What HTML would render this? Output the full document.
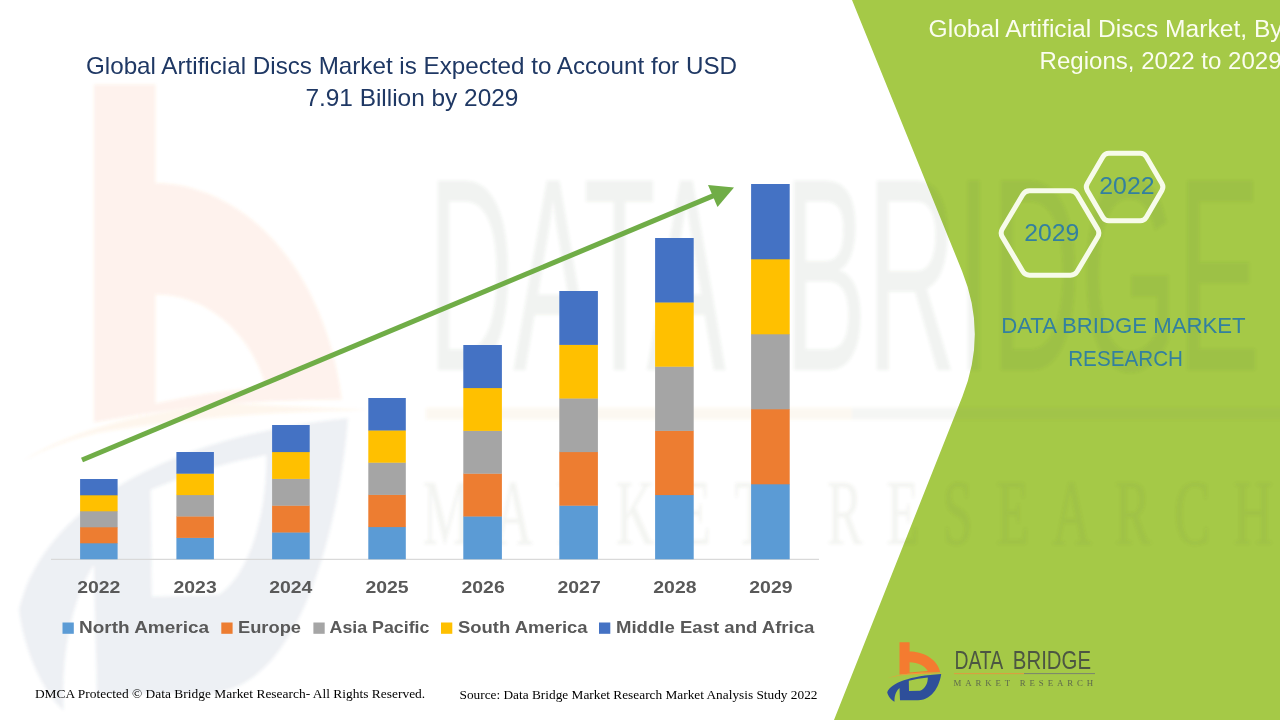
<!DOCTYPE html>
<html><head><meta charset="utf-8"><title>Global Artificial Discs Market</title>
<style>
html,body{margin:0;padding:0;background:#fff;}
body{width:1280px;height:720px;overflow:hidden;font-family:"Liberation Sans",sans-serif;}
svg{display:block;}
text{font-family:"Liberation Sans",sans-serif;}
.serif{font-family:"Liberation Serif",serif;}
</style></head><body>
<svg width="1280" height="720" viewBox="0 0 1280 720">
<rect width="1280" height="720" fill="#ffffff"/>
<!-- green panel -->
<path d="M852,0 L962,271 Q987.4,333.7 962.4,396.5 L834,720 L1280,720 L1280,0 Z" fill="#A5C947"/>
<g filter="url(#bl)"><use href="#lgi" opacity="0.09" style="--b:#455A84" transform="translate(-5384,-6658.7) scale(6.09,10.5)"/><use href="#lgt" opacity="0.075" style="--fs:26.2px" transform="translate(-5384,-6658.7) scale(6.09,10.5)"/></g>
<!-- axis -->
<line x1="51" y1="559.3" x2="819" y2="559.3" stroke="#D9D9D9" stroke-width="1.2"/>
<!-- bars -->
<rect x="80.1" y="543.00" width="37.5" height="16.30" fill="#5B9BD5"/>
<rect x="80.1" y="527.00" width="37.5" height="16.30" fill="#ED7D31"/>
<rect x="80.1" y="511.00" width="37.5" height="16.30" fill="#A5A5A5"/>
<rect x="80.1" y="495.00" width="37.5" height="16.30" fill="#FFC000"/>
<rect x="80.1" y="479.00" width="37.5" height="16.30" fill="#4472C4"/>
<rect x="176.4" y="537.60" width="37.5" height="21.70" fill="#5B9BD5"/>
<rect x="176.4" y="516.20" width="37.5" height="21.70" fill="#ED7D31"/>
<rect x="176.4" y="494.80" width="37.5" height="21.70" fill="#A5A5A5"/>
<rect x="176.4" y="473.40" width="37.5" height="21.70" fill="#FFC000"/>
<rect x="176.4" y="452.00" width="37.5" height="21.70" fill="#4472C4"/>
<rect x="272.1" y="532.20" width="37.6" height="27.10" fill="#5B9BD5"/>
<rect x="272.1" y="505.40" width="37.6" height="27.10" fill="#ED7D31"/>
<rect x="272.1" y="478.60" width="37.6" height="27.10" fill="#A5A5A5"/>
<rect x="272.1" y="451.80" width="37.6" height="27.10" fill="#FFC000"/>
<rect x="272.1" y="425.00" width="37.6" height="27.10" fill="#4472C4"/>
<rect x="368.3" y="526.80" width="37.5" height="32.50" fill="#5B9BD5"/>
<rect x="368.3" y="494.60" width="37.5" height="32.50" fill="#ED7D31"/>
<rect x="368.3" y="462.40" width="37.5" height="32.50" fill="#A5A5A5"/>
<rect x="368.3" y="430.20" width="37.5" height="32.50" fill="#FFC000"/>
<rect x="368.3" y="398.00" width="37.5" height="32.50" fill="#4472C4"/>
<rect x="463.3" y="516.20" width="38.6" height="43.10" fill="#5B9BD5"/>
<rect x="463.3" y="473.40" width="38.6" height="43.10" fill="#ED7D31"/>
<rect x="463.3" y="430.60" width="38.6" height="43.10" fill="#A5A5A5"/>
<rect x="463.3" y="387.80" width="38.6" height="43.10" fill="#FFC000"/>
<rect x="463.3" y="345.00" width="38.6" height="43.10" fill="#4472C4"/>
<rect x="559.3" y="505.40" width="38.6" height="53.90" fill="#5B9BD5"/>
<rect x="559.3" y="451.80" width="38.6" height="53.90" fill="#ED7D31"/>
<rect x="559.3" y="398.20" width="38.6" height="53.90" fill="#A5A5A5"/>
<rect x="559.3" y="344.60" width="38.6" height="53.90" fill="#FFC000"/>
<rect x="559.3" y="291.00" width="38.6" height="53.90" fill="#4472C4"/>
<rect x="655.1" y="494.80" width="38.6" height="64.50" fill="#5B9BD5"/>
<rect x="655.1" y="430.60" width="38.6" height="64.50" fill="#ED7D31"/>
<rect x="655.1" y="366.40" width="38.6" height="64.50" fill="#A5A5A5"/>
<rect x="655.1" y="302.20" width="38.6" height="64.50" fill="#FFC000"/>
<rect x="655.1" y="238.00" width="38.6" height="64.50" fill="#4472C4"/>
<rect x="751.1" y="484.00" width="38.6" height="75.30" fill="#5B9BD5"/>
<rect x="751.1" y="409.00" width="38.6" height="75.30" fill="#ED7D31"/>
<rect x="751.1" y="334.00" width="38.6" height="75.30" fill="#A5A5A5"/>
<rect x="751.1" y="259.00" width="38.6" height="75.30" fill="#FFC000"/>
<rect x="751.1" y="184.00" width="38.6" height="75.30" fill="#4472C4"/>
<!-- arrow -->
<line x1="82" y1="460" x2="716" y2="194.6" stroke="#70AD47" stroke-width="5"/>
<polygon points="734,187.5 708,185 717.5,207" fill="#70AD47"/>
<!-- title -->
<g fill="#1F3864" font-size="23.2">
<text x="86" y="73.8" textLength="651" lengthAdjust="spacingAndGlyphs">Global Artificial Discs Market is Expected to Account for USD</text>
<text x="305.4" y="106" textLength="213" lengthAdjust="spacingAndGlyphs">7.91 Billion by 2029</text>
</g>
<!-- year labels -->
<g fill="#595959" font-size="17.3" font-weight="bold">
<text x="77.2" y="592.8" textLength="43.2" lengthAdjust="spacingAndGlyphs">2022</text>
<text x="173.5" y="592.8" textLength="43.2" lengthAdjust="spacingAndGlyphs">2023</text>
<text x="269.2" y="592.8" textLength="43.2" lengthAdjust="spacingAndGlyphs">2024</text>
<text x="365.4" y="592.8" textLength="43.2" lengthAdjust="spacingAndGlyphs">2025</text>
<text x="461.5" y="592.8" textLength="43.2" lengthAdjust="spacingAndGlyphs">2026</text>
<text x="557.5" y="592.8" textLength="43.2" lengthAdjust="spacingAndGlyphs">2027</text>
<text x="653.3" y="592.8" textLength="43.2" lengthAdjust="spacingAndGlyphs">2028</text>
<text x="749.3" y="592.8" textLength="43.2" lengthAdjust="spacingAndGlyphs">2029</text>
</g>
<!-- legend -->
<g fill="#595959" font-size="17.3" font-weight="bold">
<rect x="62.5" y="622.5" width="11.3" height="11.3" fill="#5B9BD5"/><text x="79" y="633" textLength="130" lengthAdjust="spacingAndGlyphs">North America</text>
<rect x="221.3" y="622.5" width="11.3" height="11.3" fill="#ED7D31"/><text x="238" y="633" textLength="63" lengthAdjust="spacingAndGlyphs">Europe</text>
<rect x="313.4" y="622.5" width="11.3" height="11.3" fill="#A5A5A5"/><text x="329.6" y="633" textLength="99.8" lengthAdjust="spacingAndGlyphs">Asia Pacific</text>
<rect x="441" y="622.5" width="11.3" height="11.3" fill="#FFC000"/><text x="458" y="633" textLength="129.6" lengthAdjust="spacingAndGlyphs">South America</text>
<rect x="599" y="622.5" width="11.3" height="11.3" fill="#4472C4"/><text x="616" y="633" textLength="198.4" lengthAdjust="spacingAndGlyphs">Middle East and Africa</text>
</g>
<!-- footer -->
<g fill="#000" font-size="13.3" class="serif">
<text class="serif" x="34.9" y="697.9" textLength="390.3" lengthAdjust="spacingAndGlyphs">DMCA Protected © Data Bridge Market Research- All Rights Reserved.</text>
<text class="serif" x="459.5" y="698.9" textLength="358" lengthAdjust="spacingAndGlyphs">Source: Data Bridge Market Research Market Analysis Study 2022</text>
</g>
<!-- right header -->
<g fill="#FBFDF0" font-size="23.3">
<text x="928.6" y="37.1" textLength="354" lengthAdjust="spacingAndGlyphs">Global Artificial Discs Market, By</text>
<text x="1039.6" y="68.9" textLength="242" lengthAdjust="spacingAndGlyphs">Regions, 2022 to 2029</text>
</g>
<!-- hexagons -->
<g fill="none" stroke="#F7FBEA" stroke-width="5" stroke-linejoin="round">
<path d="M1097.7,229.1 Q1100.0,233.0 1097.7,236.9 L1077.3,271.3 Q1075.0,275.2 1070.5,275.2 L1029.5,275.2 Q1025.0,275.2 1022.7,271.3 L1002.3,236.9 Q1000.0,233.0 1002.3,229.1 L1022.7,194.7 Q1025.0,190.8 1029.5,190.8 L1070.5,190.8 Q1075.0,190.8 1077.3,194.7 Z"/>
<path d="M1161.9,183.5 Q1163.9,187.0 1161.9,190.5 L1146.3,217.3 Q1144.2,220.8 1140.2,220.8 L1108.9,220.8 Q1104.9,220.8 1102.9,217.3 L1087.3,190.5 Q1085.3,187.0 1087.3,183.5 L1102.9,156.7 Q1104.9,153.2 1108.9,153.2 L1140.2,153.2 Q1144.2,153.2 1146.3,156.7 Z"/>
</g>
<g fill="#33809F" font-size="23.7">
<text x="1024.2" y="240.6" textLength="55" lengthAdjust="spacingAndGlyphs">2029</text>
<text x="1099.3" y="194.4" textLength="55.3" lengthAdjust="spacingAndGlyphs">2022</text>
</g>
<g fill="#33809F" font-size="22.4">
<text x="1001.2" y="333" textLength="244.4" lengthAdjust="spacingAndGlyphs">DATA BRIDGE MARKET</text>
<text x="1068.2" y="365.9" textLength="114.8" lengthAdjust="spacingAndGlyphs">RESEARCH</text>
</g>
<defs>
<g id="lgi" transform="translate(880,636) scale(0.1)">
<path fill="#F47B30" fill-rule="evenodd" d="M195,62 L296,62 L296,156 C420,156 570,222 602,362 Q400,362 195,384 Z M296,262 C380,262 450,297 478,350 Q380,355 296,366 Z"/>
<path fill="#F29A3A" d="M80,420 Q200,377 420,366 L645,372 Q400,374 200,394 Q130,404 80,420 Z"/>
<path style="fill:var(--b,#2E4F9A)" fill-rule="evenodd" d="M72,562 C110,470 300,398 612,380 C600,470 540,640 380,642 L200,642 L195,520 C170,540 140,590 145,658 C110,640 80,600 72,562 Z M288,448 Q380,425 478,415 C480,470 450,530 400,548 L290,550 Z"/>
</g>
<g id="lgt">
<text x="954.4" y="669.4" style="font-size:var(--fs,25px)" fill="#4C5642" textLength="48.8" lengthAdjust="spacingAndGlyphs">DATA</text>
<text x="1012.8" y="669.4" style="font-size:var(--fs,25px)" fill="#4C5642" textLength="78.2" lengthAdjust="spacingAndGlyphs">BRIDGE</text>
<rect x="954" y="673" width="70" height="1.1" fill="#D8A040"/>
<rect x="1024" y="673" width="71" height="1.1" fill="#7D8A6A"/>
<text class="serif" x="953.5" y="686" font-size="8.8" fill="#5E6A4C" textLength="139.5" lengthAdjust="spacing">MARKET RESEARCH</text>
</g>
<filter id="bl" x="-5%" y="-5%" width="110%" height="110%"><feGaussianBlur stdDeviation="1.6"/></filter>
</defs>
<use href="#lgi"/><use href="#lgt"/>
</svg>
</body></html>
